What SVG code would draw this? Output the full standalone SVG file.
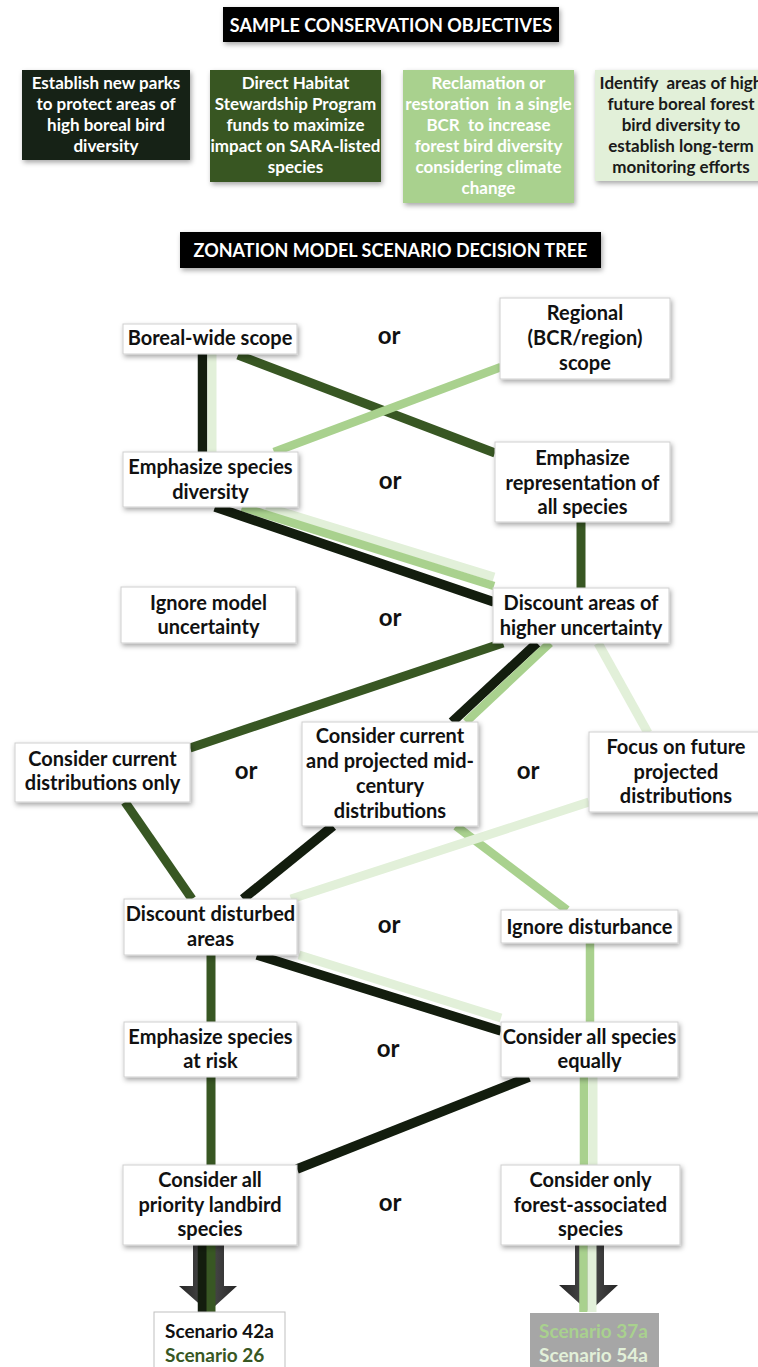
<svg xmlns="http://www.w3.org/2000/svg" width="758" height="1367" viewBox="0 0 758 1367">
<defs>
<style>
.t{font-family:Lato,"Liberation Sans",sans-serif;font-weight:bold;text-anchor:middle}
.n{font-size:20px;fill:#111}
.o{font-size:17px}
.h{font-size:18px;fill:#fff}
.or{font-size:24px;fill:#111}
.box{fill:#fff;stroke:#cfcfcf;stroke-width:1;filter:url(#sh)}
.k{stroke:#131d0e;stroke-width:9.5;fill:none}
.g{stroke:#385723;stroke-width:9;fill:none}
.l{stroke:#a9d18e;stroke-width:8.5;fill:none}
.v{stroke:#e2f0d9;stroke-width:9;fill:none}
.sc{font-family:Lato,"Liberation Sans",sans-serif;font-weight:bold;font-size:19px}
</style>
<filter id="sh" x="-15%" y="-20%" width="135%" height="150%">
<feDropShadow dx="1.5" dy="2.5" stdDeviation="2.5" flood-color="#000" flood-opacity="0.35"/>
</filter>
<linearGradient id="ag" x1="0" y1="0" x2="1" y2="0">
<stop offset="0" stop-color="#262626"/>
<stop offset="0.5" stop-color="#4d4d4d"/>
<stop offset="1" stop-color="#262626"/>
</linearGradient>
</defs>
<rect width="758" height="1367" fill="#fff"/>

<g id="header-objectives">
<rect x="223" y="7" width="336" height="35" fill="#050505" filter="url(#sh)"/>
<text class="t h" x="391" y="32">SAMPLE CONSERVATION OBJECTIVES</text>
</g>

<g id="obj-parks">
<rect x="22" y="70" width="168" height="90" fill="#172313" filter="url(#sh)"/>
<text class="t o" fill="#fff"><tspan x="106" y="89">Establish new parks</tspan><tspan x="106" y="110">to protect areas of</tspan><tspan x="106" y="131">high boreal bird</tspan><tspan x="106" y="152">diversity</tspan></text>
</g>
<g id="obj-stewardship">
<rect x="210" y="70" width="171" height="112" fill="#385723" filter="url(#sh)"/>
<text class="t o" fill="#fff"><tspan x="295.5" y="89">Direct Habitat</tspan><tspan x="295.5" y="110">Stewardship Program</tspan><tspan x="295.5" y="131">funds to maximize</tspan><tspan x="295.5" y="152">impact on SARA-listed</tspan><tspan x="295.5" y="173">species</tspan></text>
</g>
<g id="obj-reclamation">
<rect x="403" y="70" width="171" height="133" fill="#a9d18e" filter="url(#sh)"/>
<text class="t o" fill="#fff" xml:space="preserve"><tspan x="488.5" y="89">Reclamation or</tspan><tspan x="488.5" y="110">restoration  in a single</tspan><tspan x="488.5" y="131">BCR  to increase</tspan><tspan x="488.5" y="152">forest bird diversity</tspan><tspan x="488.5" y="173">considering climate</tspan><tspan x="488.5" y="194">change</tspan></text>
</g>
<g id="obj-monitoring">
<rect x="595" y="70" width="172" height="111" fill="#e2f0d9" filter="url(#sh)"/>
<text class="t o" fill="#1a1a1a" xml:space="preserve"><tspan x="681" y="89">Identify  areas of high</tspan><tspan x="681" y="110">future boreal forest</tspan><tspan x="681" y="131">bird diversity to</tspan><tspan x="681" y="152">establish long-term</tspan><tspan x="681" y="173">monitoring efforts</tspan></text>
</g>

<g id="header-tree">
<rect x="180" y="232" width="421" height="36" fill="#050505" filter="url(#sh)"/>
<text class="t h" x="390.5" y="257">ZONATION MODEL SCENARIO DECISION TREE</text>
</g>

<g id="arrows">
<path d="M193,1245 H224 V1286 H237 L208.5,1312 L179,1286 H193 Z" fill="url(#ag)"/>
<path d="M575,1245 H604 V1285 H618 L589,1312 L559,1285 H575 Z" fill="url(#ag)"/>
</g>

<g id="connectors">
<line class="k" x1="202.5" y1="354" x2="202.5" y2="452"/>
<line class="v" x1="212" y1="354" x2="212" y2="452"/>
<line class="g" x1="238" y1="355" x2="495" y2="453"/>
<line class="l" x1="501" y1="367" x2="274" y2="452"/>
<line class="v" x1="266" y1="507" x2="494" y2="577"/>
<line class="l" x1="242" y1="507" x2="494" y2="586"/>
<line class="k" x1="215" y1="507" x2="494" y2="602"/>
<line class="g" x1="581" y1="522" x2="581" y2="588"/>
<line class="g" x1="503" y1="643" x2="190" y2="748"/>
<line class="k" x1="537" y1="643" x2="452" y2="722"/>
<line class="l" x1="550" y1="643" x2="466" y2="722"/>
<line class="v" stroke-width="7" x1="598" y1="643" x2="648" y2="733"/>
<line class="g" x1="125" y1="802" x2="192" y2="899"/>
<line class="k" x1="333" y1="826" x2="243" y2="899"/>
<line class="l" x1="456" y1="826" x2="567" y2="910"/>
<line class="v" x1="589" y1="802" x2="291" y2="899"/>
<line class="g" x1="211" y1="955" x2="211" y2="1022"/>
<line class="v" x1="299" y1="955" x2="501" y2="1018"/>
<line class="k" x1="257" y1="955" x2="501" y2="1031"/>
<line class="l" x1="590" y1="943" x2="590" y2="1022"/>
<line class="g" x1="211" y1="1077" x2="211" y2="1165"/>
<line class="k" x1="529" y1="1077" x2="297" y2="1169"/>
<line class="l" x1="584" y1="1077" x2="584" y2="1165"/>
<line class="v" x1="593" y1="1077" x2="593" y2="1165"/>
<line class="k" x1="202.5" y1="1245" x2="202.5" y2="1312"/>
<line class="g" stroke-width="8" x1="211" y1="1245" x2="211" y2="1312"/>
<line class="l" stroke-width="7.5" x1="583.5" y1="1245" x2="583.5" y2="1312"/>
<line class="v" stroke-width="9.5" x1="592" y1="1245" x2="592" y2="1312"/>
</g>

<g id="node-boreal">
<rect class="box" x="123" y="324" width="174" height="30"/>
<text class="t n" x="210" y="345">Boreal-wide scope</text>
</g>
<g id="or-1"><text class="t or" x="389" y="344">or</text></g>
<g id="node-regional">
<rect class="box" x="500" y="298" width="170" height="81"/>
<text class="t n"><tspan x="585" y="320">Regional</tspan><tspan x="585" y="345">(BCR/region)</tspan><tspan x="585" y="370">scope</tspan></text>
</g>

<g id="node-diversity">
<rect class="box" x="123" y="452" width="175" height="55"/>
<text class="t n"><tspan x="210.5" y="474">Emphasize species</tspan><tspan x="210.5" y="499">diversity</tspan></text>
</g>
<g id="or-2"><text class="t or" x="390" y="489">or</text></g>
<g id="node-representation">
<rect class="box" x="495" y="442" width="175" height="80"/>
<text class="t n"><tspan x="582.5" y="465">Emphasize</tspan><tspan x="582.5" y="490">representation of</tspan><tspan x="582.5" y="514">all species</tspan></text>
</g>

<g id="node-ignore-uncertainty">
<rect class="box" x="121" y="587" width="175" height="56"/>
<text class="t n"><tspan x="208.5" y="610">Ignore model</tspan><tspan x="208.5" y="634">uncertainty</tspan></text>
</g>
<g id="or-3"><text class="t or" x="390" y="626">or</text></g>
<g id="node-discount-uncertainty">
<rect class="box" x="493" y="588" width="176" height="55"/>
<text class="t n"><tspan x="581" y="610">Discount areas of</tspan><tspan x="581" y="635">higher uncertainty</tspan></text>
</g>

<g id="node-current">
<rect class="box" x="15" y="743" width="175" height="59"/>
<text class="t n"><tspan x="102.5" y="766">Consider current</tspan><tspan x="102.5" y="790">distributions only</tspan></text>
</g>
<g id="or-4"><text class="t or" x="246" y="779">or</text></g>
<g id="node-midcentury">
<rect class="box" x="302" y="722" width="176" height="104"/>
<text class="t n"><tspan x="390" y="743">Consider current</tspan><tspan x="390" y="768">and projected mid-</tspan><tspan x="390" y="793">century</tspan><tspan x="390" y="818">distributions</tspan></text>
</g>
<g id="or-5"><text class="t or" x="528" y="779">or</text></g>
<g id="node-future">
<rect class="box" x="589" y="732" width="176" height="80"/>
<text class="t n"><tspan x="676" y="754">Focus on future</tspan><tspan x="676" y="779">projected</tspan><tspan x="676" y="803">distributions</tspan></text>
</g>

<g id="node-discount-disturbed">
<rect class="box" x="124" y="899" width="173" height="56"/>
<text class="t n"><tspan x="210.5" y="921">Discount disturbed</tspan><tspan x="210.5" y="946">areas</tspan></text>
</g>
<g id="or-6"><text class="t or" x="389" y="933">or</text></g>
<g id="node-ignore-disturbance">
<rect class="box" x="501" y="910" width="177" height="33"/>
<text class="t n" x="589.5" y="934">Ignore disturbance</text>
</g>

<g id="node-at-risk">
<rect class="box" x="124" y="1022" width="173" height="55"/>
<text class="t n"><tspan x="210.5" y="1044">Emphasize species</tspan><tspan x="210.5" y="1068">at risk</tspan></text>
</g>
<g id="or-7"><text class="t or" x="388" y="1057">or</text></g>
<g id="node-all-equal">
<rect class="box" x="501" y="1022" width="177" height="55"/>
<text class="t n"><tspan x="589.5" y="1044">Consider all species</tspan><tspan x="589.5" y="1068">equally</tspan></text>
</g>

<g id="node-priority">
<rect class="box" x="123" y="1165" width="174" height="80"/>
<text class="t n"><tspan x="210" y="1187">Consider all</tspan><tspan x="210" y="1212">priority landbird</tspan><tspan x="210" y="1236">species</tspan></text>
</g>
<g id="or-8"><text class="t or" x="390" y="1211">or</text></g>
<g id="node-forest">
<rect class="box" x="501" y="1165" width="179" height="80"/>
<text class="t n"><tspan x="590.5" y="1187">Consider only</tspan><tspan x="590.5" y="1212">forest-associated</tspan><tspan x="590.5" y="1236">species</tspan></text>
</g>

<g id="scenario-left">
<rect x="154" y="1312" width="131" height="60" fill="#fff" stroke="#bfbfbf" stroke-width="1"/>
<text class="sc" x="165" y="1338" fill="#111">Scenario 42a</text>
<text class="sc" x="165" y="1362" fill="#385723">Scenario 26</text>
</g>
<g id="scenario-right">
<rect x="530" y="1313" width="129" height="60" fill="#a6a6a6"/>
<text class="sc" x="539" y="1338" fill="#a9d18e">Scenario 37a</text>
<text class="sc" x="539" y="1362" fill="#e2f0d9">Scenario 54a</text>
</g>
</svg>
